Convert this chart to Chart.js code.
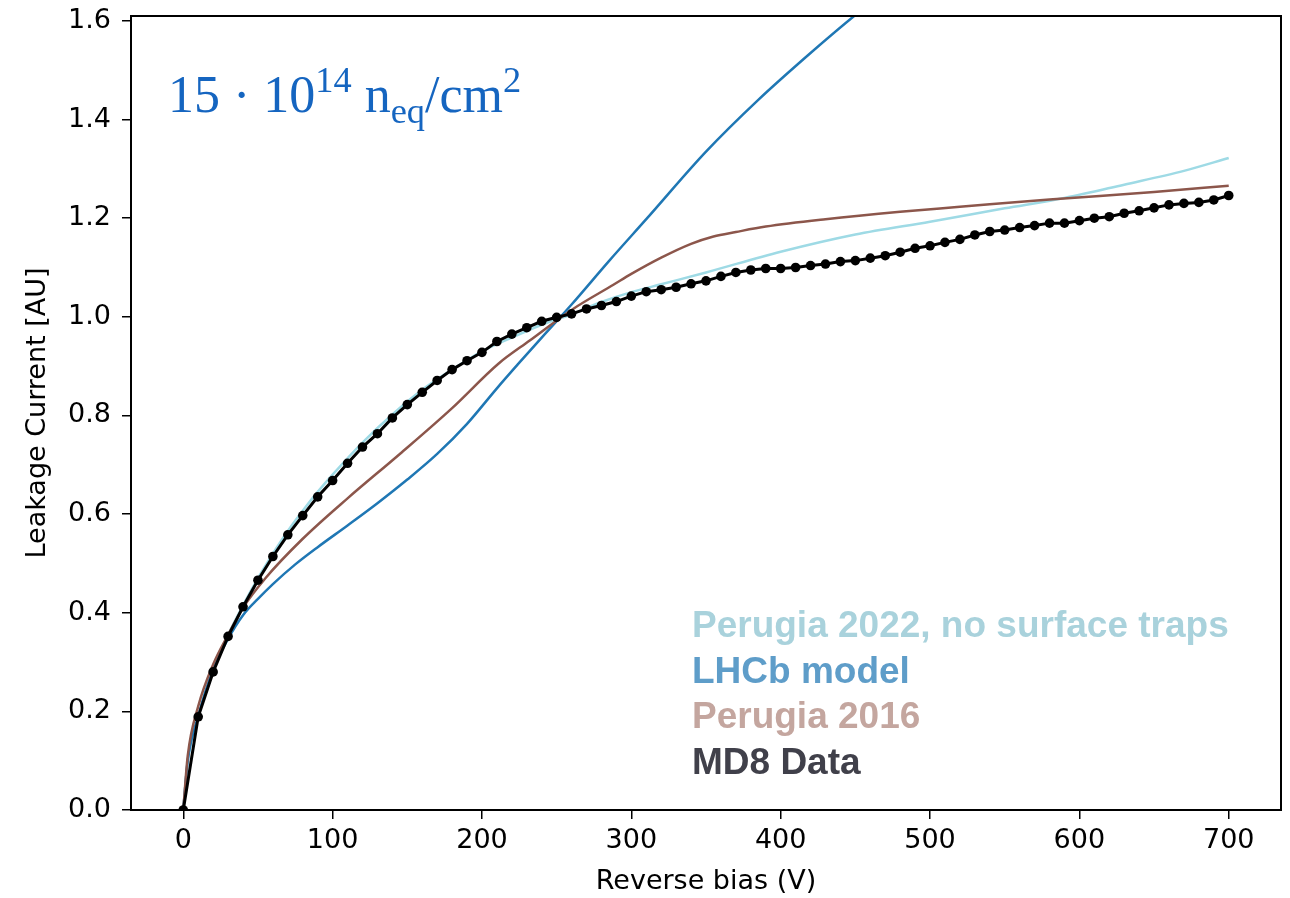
<!DOCTYPE html>
<html lang="en">
<head>
<meta charset="UTF-8" />
<title>Leakage current vs reverse bias</title>
<script src="https://cdn.jsdelivr.net/npm/chart.js"></script>
<style>
  body { margin: 0; background: #fff; }
  #wrap { position: relative; width: 1290px; height: 898px; overflow: hidden; }
  #fluence {
    position: absolute; left: 168px; top: 69px;
    font-family: 'Liberation Serif', 'DejaVu Serif', serif;
    font-size: 52px; line-height: 1; color: #1565c0; white-space: nowrap;
  }
  #fluence .sup { font-size: 0.7em; position: relative; top: -0.55em; }
  #fluence .sub { font-size: 0.7em; position: relative; top: 0.3em; }
  #legend {
    position: absolute; left: 692px; top: 602px;
    font-family: 'Liberation Sans', Arial, sans-serif; font-weight: bold;
    font-size: 37px; line-height: 45.5px; white-space: nowrap;
  }
</style>
</head>
<body>
<div id="wrap">
  <canvas id="leakChart" width="1290" height="898"></canvas>
  <div id="fluence">15 &middot; 10<span class="sup">14</span> n<span class="sub">eq</span>/cm<span class="sup">2</span></div>
  <div id="legend"></div>
</div>

<script>
  // axis ticks
  const xTicks = [0, 100, 200, 300, 400, 500, 600, 700];
  const yTicks = [0, 0.2, 0.4, 0.6, 0.8, 1.0, 1.2, 1.4, 1.6];

  // MD8 measured data
  const md8Volts = [0, 10, 20, 30, 40, 50, 60, 70, 80, 90, 100, 110, 120, 130, 140, 150, 160, 170, 180, 190,
    200, 210, 220, 230, 240, 250, 260, 270, 280, 290, 300, 310, 320, 330, 340, 350, 360, 370, 380, 390,
    400, 410, 420, 430, 440, 450, 460, 470, 480, 490, 500, 510, 520, 530, 540, 550, 560, 570, 580, 590,
    600, 610, 620, 630, 640, 650, 660, 670, 680, 690, 700];
  const md8Current = [0, 0.189, 0.280, 0.352, 0.412, 0.466, 0.514, 0.558, 0.597, 0.635, 0.668, 0.703, 0.736, 0.763, 0.795, 0.822, 0.847, 0.871, 0.893, 0.911,
    0.928, 0.950, 0.965, 0.978, 0.991, 0.999, 1.006, 1.016, 1.023, 1.031, 1.042, 1.051, 1.055, 1.060, 1.067, 1.073, 1.082, 1.090, 1.095, 1.098,
    1.098, 1.100, 1.104, 1.107, 1.112, 1.114, 1.119, 1.124, 1.131, 1.139, 1.144, 1.151, 1.157, 1.166, 1.173, 1.176, 1.181, 1.185, 1.190, 1.190,
    1.195, 1.200, 1.203, 1.210, 1.215, 1.221, 1.227, 1.230, 1.232, 1.237, 1.246];

  // LHCb model
  const lhcbVolts = [0, 3, 10, 20, 30, 40, 50, 60, 75, 90, 110, 130, 150, 170, 190, 210, 225, 240, 260, 285, 310, 350, 385, 420, 450, 470];
  const lhcbCurrent = [0, 0.10, 0.19, 0.285, 0.347, 0.395, 0.428, 0.458, 0.498, 0.533, 0.577, 0.622, 0.670, 0.722, 0.783, 0.855, 0.907, 0.958, 1.025, 1.113, 1.198, 1.335, 1.44, 1.535, 1.612, 1.66];

  // Perugia 2016
  const p16Volts = [0, 3, 10, 20, 30, 40, 55, 80, 110, 145, 180, 211, 232, 261, 288, 300, 320, 340, 355, 370, 390, 430, 480, 520, 580, 650, 700];
  const p16Current = [0, 0.11, 0.21, 0.295, 0.355, 0.41, 0.47, 0.55, 0.632, 0.722, 0.815, 0.905, 0.952, 1.016, 1.065, 1.087, 1.12, 1.148, 1.163, 1.172, 1.183, 1.198, 1.213, 1.223, 1.238, 1.253, 1.266];

  // Perugia 2022, no surface traps
  const p22Volts = [0, 3, 10, 20, 30, 40, 50, 60, 70, 80, 90, 100, 120, 140, 160, 180, 200, 220, 240, 260, 280, 300, 320, 350, 400, 450, 500, 550, 590, 630, 670, 700];
  const p22Current = [0, 0.10, 0.19, 0.285, 0.355, 0.415, 0.47, 0.52, 0.566, 0.607, 0.645, 0.68, 0.745, 0.802, 0.852, 0.893, 0.93, 0.958, 0.984, 1.005, 1.03, 1.05, 1.066, 1.09, 1.132, 1.167, 1.193, 1.22, 1.241, 1.268, 1.296, 1.322];

  const seriesNames = ['Perugia 2022, no surface traps', 'LHCb model', 'Perugia 2016', 'MD8 Data'];
  const legendColors = ['#a9d2dc', '#5e9dc9', '#c4a69f', '#40404a'];

  const toPoints = (xs, ys) => xs.map((x, i) => ({ x: x, y: ys[i] }));

  // legend block (text only, coloured per series)
  const legendBox = document.getElementById('legend');
  seriesNames.forEach((name, i) => {
    const d = document.createElement('div');
    d.textContent = name;
    d.style.color = legendColors[i];
    legendBox.appendChild(d);
  });

  // matplotlib style box around the axes
  const frame = {
    id: 'frame',
    afterDraw(chart) {
      const a = chart.chartArea, ctx = chart.ctx;
      ctx.save();
      ctx.strokeStyle = '#000';
      ctx.lineWidth = 2;
      ctx.strokeRect(a.left, a.top, a.right - a.left, a.bottom - a.top);
      ctx.restore();
    }
  };

  const tickFont = { family: 'DejaVu Sans', size: 27 };

  new Chart(document.getElementById('leakChart'), {
    type: 'line',
    data: {
      datasets: [
        {
          label: seriesNames[3], data: toPoints(md8Volts, md8Current),
          borderColor: '#000', backgroundColor: '#000', borderWidth: 3,
          pointRadius: 4.8, pointBorderWidth: 0, tension: 0, order: 1
        },
        {
          label: seriesNames[2], data: toPoints(p16Volts, p16Current),
          borderColor: '#8c564b', borderWidth: 2.5, pointRadius: 0,
          cubicInterpolationMode: 'monotone', order: 2
        },
        {
          label: seriesNames[1], data: toPoints(lhcbVolts, lhcbCurrent),
          borderColor: '#1f77b4', borderWidth: 2.5, pointRadius: 0,
          cubicInterpolationMode: 'monotone', order: 3
        },
        {
          label: seriesNames[0], data: toPoints(p22Volts, p22Current),
          borderColor: '#9edae5', borderWidth: 2.5, pointRadius: 0,
          cubicInterpolationMode: 'monotone', order: 4
        }
      ]
    },
    options: {
      responsive: false,
      devicePixelRatio: 1,
      animation: false,
      layout: { padding: { top: 16, right: 9, bottom: 0, left: 0 } },
      plugins: { legend: { display: false }, tooltip: { enabled: false } },
      scales: {
        x: {
          type: 'linear', min: -35, max: 735,
          afterBuildTicks: s => { s.ticks = xTicks.map(v => ({ value: v })); },
          afterFit: s => { s.height = 88; s.paddingLeft = 0; s.paddingRight = 0; },
          border: { display: false },
          grid: { drawOnChartArea: false, drawTicks: true, tickLength: 9, color: '#000', lineWidth: 1.5 },
          ticks: { color: '#000', font: tickFont, padding: 6, maxRotation: 0 },
          title: { display: true, text: 'Reverse bias (V)', color: '#000', font: tickFont, padding: { top: 0, bottom: 0 } }
        },
        y: {
          type: 'linear', min: 0, max: 1.61,
          afterBuildTicks: s => { s.ticks = yTicks.map(v => ({ value: v })); },
          afterFit: s => { s.width = 131; s.paddingTop = 0; s.paddingBottom = 0; },
          border: { display: false },
          grid: { drawOnChartArea: false, drawTicks: true, tickLength: 9, color: '#000', lineWidth: 1.5 },
          ticks: { color: '#000', font: tickFont, padding: 11, callback: v => v.toFixed(1) },
          title: { display: true, text: 'Leakage Current [AU]', color: '#000', font: tickFont, padding: { top: 22, bottom: 0 } }
        }
      }
    },
    plugins: [frame]
  });
</script>
</body>
</html>
